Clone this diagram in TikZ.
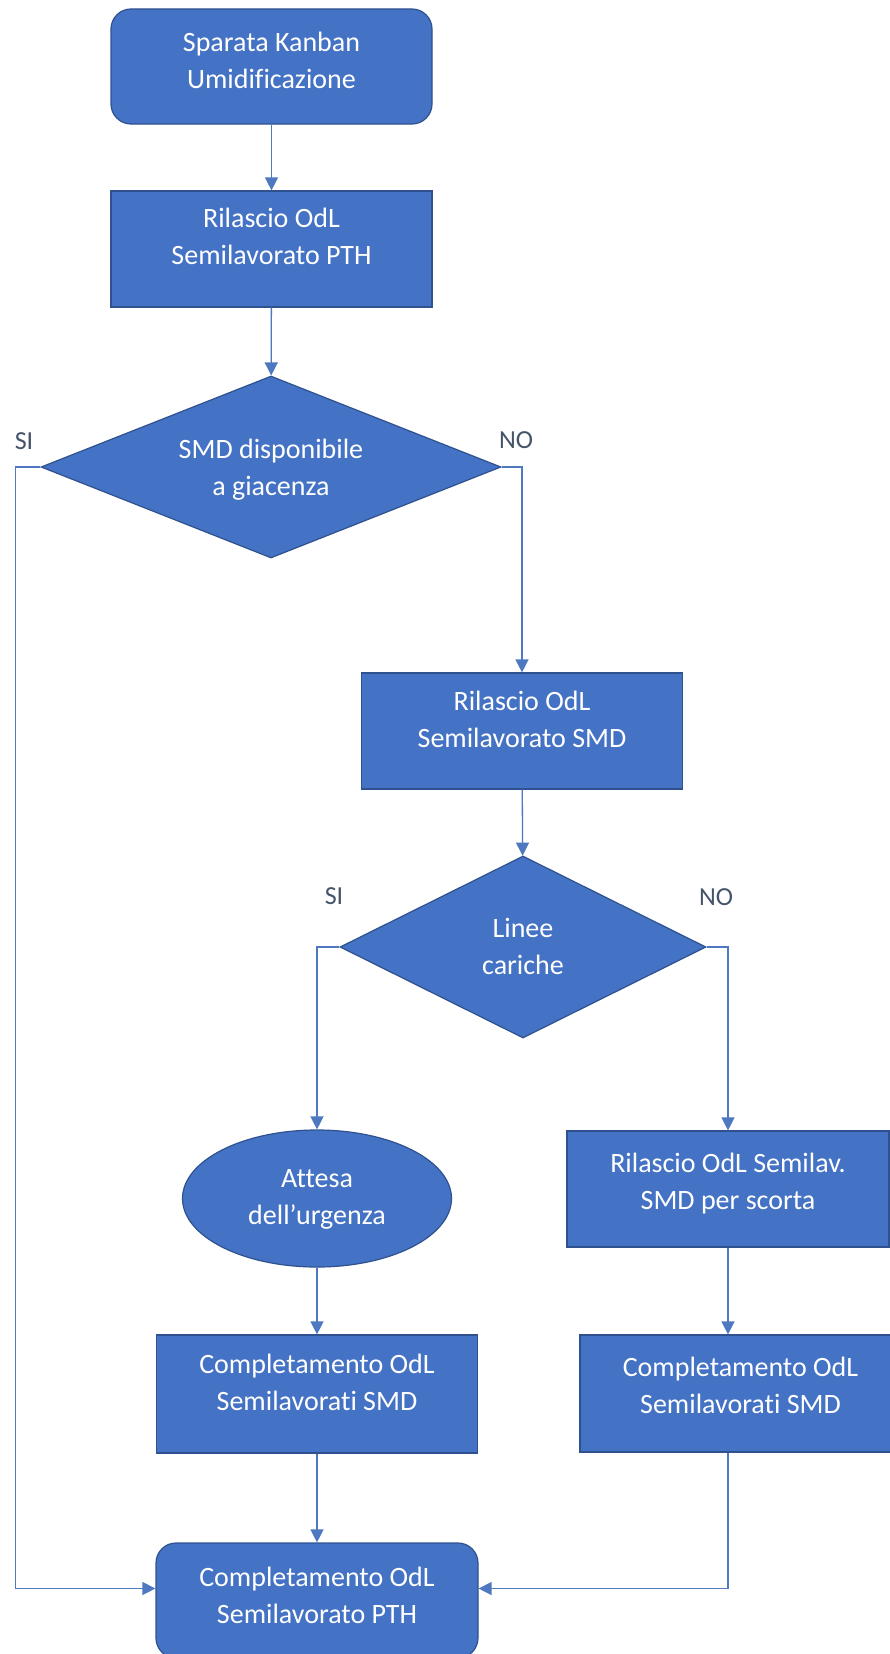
\documentclass[tikz,border=0pt]{standalone}
\usepackage{fontspec}
\setmainfont{Carlito}[Ligatures={NoCommon,NoContextual}]
\usetikzlibrary{shapes.geometric,arrows.meta}

\definecolor{boxblue}{HTML}{4472C4}
\definecolor{boxedge}{HTML}{2F528F}
\definecolor{linkblue}{HTML}{4E78C0}
\definecolor{labelgray}{HTML}{44546A}

% two centred lines, optionally lifted inside their shape
\newcommand\twolines[3][0pt]{\raisebox{#1}[\height][\depth]{\begin{tabular}{@{}c@{}}#2\\#3\end{tabular}}}

\tikzset{
  procbox/.style={rectangle, draw=boxedge, line width=1.2pt, fill=boxblue,
    text=white, minimum width=321pt, minimum height=116pt, inner sep=0pt,
    font=\fontsize{28}{37}\selectfont},
  termbox/.style={procbox, rounded corners=20pt},
  decision/.style={diamond, aspect=2.5, draw=boxedge, line width=1.2pt,
    fill=boxblue, text=white, inner sep=0pt,
    font=\fontsize{28}{37}\selectfont},
  waitnode/.style={ellipse, draw=boxedge, line width=1.2pt, fill=boxblue,
    text=white, inner sep=0pt, minimum width=269pt, minimum height=137pt,
    font=\fontsize{28}{37}\selectfont},
  flow/.style={draw=linkblue, line width=1.3pt,
    -{Triangle[length=13pt,width=13pt]}},
  branch/.style={text=labelgray, inner sep=0pt, font=\fontsize{26}{30}\selectfont}
}

\begin{document}
\begin{tikzpicture}[x=1pt,y=-1pt]
  \useasboundingbox (0,0) rectangle (890,1654);
  \fill[white] (0,0) rectangle (890,1654);
  \clip (0,0) rectangle (890,1654);

  % steps
  \node[termbox, minimum height=115pt] (b1) at (271.5,66.5)
    {\twolines[4pt]{Sparata Kanban}{Umidificazione}};
  \node[procbox] (b2) at (271.5,249)
    {\twolines[10pt]{Rilascio OdL}{Semilavorato PTH}};
  \node[decision, minimum width=460pt, minimum height=182pt] (d1) at (271,467)
    {\twolines[-3pt]{SMD disponibile}{a giacenza}};
  \node[procbox] (smd) at (522,731)
    {\twolines[9pt]{Rilascio OdL}{Semilavorato SMD}};
  \node[decision, minimum width=366pt, minimum height=182pt] (d2) at (523,947)
    {\twolines[-2pt]{Linee}{cariche}};
  \node[waitnode] (att) at (317,1198.5)
    {\twolines{Attesa}{dell’urgenza}};
  \node[procbox, minimum width=322pt] (semilav) at (728,1189)
    {\twolines[5pt]{Rilascio OdL Semilav.}{SMD per scorta}};
  \node[procbox, minimum height=118pt] (cl) at (317,1394)
    {\twolines[9pt]{Completamento OdL}{Semilavorati SMD}};
  \node[procbox, minimum height=117pt] (cr) at (740.5,1393.5)
    {\twolines[6pt]{Completamento OdL}{Semilavorati SMD}};
  \node[termbox, minimum width=322pt, minimum height=115pt] (bot) at (317,1600.5)
    {\twolines[3pt]{Completamento OdL}{Semilavorato PTH}};

  % branch labels
  \node[branch] (si1) at (24,441) {SI};
  \node[branch] (no1) at (516,440) {NO};
  \node[branch] (si2) at (334,896) {SI};
  \node[branch] (no2) at (716,897) {NO};

  % entry points on the final step
  \coordinate (botL) at ([yshift=12pt]bot.west);
  \coordinate (botR) at ([yshift=12pt]bot.east);

  % connectors
  \draw[flow] (b1) -- (b2);
  \draw[flow] (b2) -- (d1);
  \draw[flow] (d1.west) -- ++(-25,0) |- (botL);
  \draw[flow] (d1.east) -| (smd.north);
  \draw[flow] (smd) -- (d2);
  \draw[flow] (d2.west) -| (att.north);
  \draw[flow] (d2.east) -| (semilav.north);
  \draw[flow] (att) -- (cl);
  \draw[flow] (semilav.south) -- (semilav.south |- cr.north);
  \draw[flow] (cl) -- (bot);
  \draw[flow] (semilav.south |- cr.south) |- (botR);
\end{tikzpicture}
\end{document}
